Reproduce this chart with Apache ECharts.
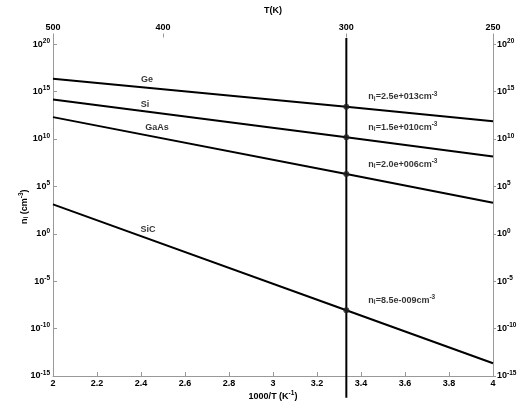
<!DOCTYPE html>
<html>
<head>
<meta charset="utf-8">
<script src="https://cdn.jsdelivr.net/npm/echarts@6/dist/echarts.min.js"></script>
<style>html,body{margin:0;padding:0;background:#fff;}#chart{width:519px;height:401px;}</style>
</head>
<body>
<div id="chart"></div>
<script>
// ---- data ----
const invT = [2, 3.3333, 4];                 // 1000/T (1/K)
const geValues   = [2.3e16, 2.5e13, 7.4e11];
const siValues   = [1.45e14, 1.5e10, 1.45e8];
const gaasValues = [2.0e12, 2.0e6, 1.9e3];
const sicValues  = [1.26e3, 8.5e-9, 2.2e-14];
const materials = ['Ge', 'Si', 'GaAs', 'SiC'];
const materialLabelX = [2.427, 2.418, 2.473, 2.432];
const materialLabelY = [1.8e16, 4.3e13, 1.6e11, 3.0e0];
const roomInvT = 1000 / 300;
const ni300 = [2.5e13, 1.5e10, 2.0e6, 8.5e-9];
const topTempTicks = [500, 400, 300, 250];   // T(K)
const refLineY = [Math.pow(10, 20.65), Math.pow(10, -17.3)];
const yMin = 1e-15, yMaxExp = 20.7;

function fmtNi(v) {
  const e = Math.floor(Math.log10(v) + 1e-9);
  const m = v / Math.pow(10, e);
  const sign = e < 0 ? '-' : '+';
  const ee = String(Math.abs(e)).padStart(3, '0');
  return '{b|n}{sub|i}{b|=' + m.toFixed(1) + 'e' + sign + ee + 'cm}{sup|-3}';
}
const FONT = 'Liberation Sans, Arial, sans-serif';
const richBase = {
  b: {fontSize: 9, fontWeight: 'bold', color: '#000', fontFamily: FONT},
  sup: {fontSize: 6.5, fontWeight: 'bold', color: '#000', fontFamily: FONT, verticalAlign: 'bottom', padding: [0, 0, 6, 0]},
  sub: {fontSize: 6.5, fontWeight: 'bold', color: '#000', fontFamily: FONT, verticalAlign: 'top', padding: [5, 0, 0, 0]}
};
function powLabel(v) {
  const e = Math.round(Math.log10(v));
  if (Math.abs(Math.log10(v) - e) > 1e-6) return '';
  return '{b|10}{sup|' + e + '}';
}
const lineStyle = {color: '#000', width: 2};
function lineSeries(name, vals) {
  return {type: 'line', name, data: invT.map((x, i) => [x, vals[i]]), symbol: 'none', lineStyle, xAxisIndex: 0, yAxisIndex: 0, z: 3};
}
const axisLineGray = {show: true, lineStyle: {color: '#999', width: 1}};

const chart = echarts.init(document.getElementById('chart'), null, {renderer: 'canvas'});
chart.setOption({
  animation: false,
  grid: {left: 53, right: 26, top: 37.5, bottom: 25, containLabel: false, outerBoundsMode: 'none'},
  xAxis: [{
    type: 'value', min: 2, max: 4, interval: 0.2, position: 'bottom',
    axisLine: axisLineGray, splitLine: {show: false},
    axisTick: {inside: true, length: 4, lineStyle: {color: '#999'}},
    axisLabel: {margin: 3, color: '#000', fontWeight: 'bold', fontSize: 9, fontFamily: FONT,
      formatter: v => String(Math.round(v * 10) / 10)},
    name: '{b|1000/T (K}{sup|-1}{b|)}', nameLocation: 'middle', nameGap: 14, nameMoveOverlap: false,
    nameTextStyle: {rich: richBase}
  }, {
    type: 'value', min: 2, max: 4, position: 'top',
    axisLine: {show: false}, splitLine: {show: false},
    axisTick: {show: true, inside: false, length: 4, lineStyle: {color: '#999'}, customValues: topTempTicks.map(t => 1000 / t)},
    axisLabel: {margin: 5, color: '#000', fontWeight: 'bold', fontSize: 9, fontFamily: FONT,
      customValues: topTempTicks.map(t => 1000 / t), formatter: v => String(Math.round(1000 / v))},
    name: 'T(K)', nameLocation: 'middle', nameGap: 22, nameMoveOverlap: false,
    nameTextStyle: {color: '#000', fontWeight: 'bold', fontSize: 9, fontFamily: FONT}
  }],
  yAxis: [{
    type: 'log', min: yMin, max: Math.pow(10, yMaxExp), interval: 5, position: 'left',
    axisLine: axisLineGray, splitLine: {show: false}, minorTick: {show: false},
    axisTick: {inside: true, length: 4, lineStyle: {color: '#999'}},
    axisLabel: {margin: 3, showMaxLabel: false, formatter: powLabel, rich: richBase},
    name: '{b|n}{sub|i}{b| (cm}{sup|-3}{b|)}', nameLocation: 'middle', nameGap: 22, nameRotate: 90, nameMoveOverlap: false,
    nameTextStyle: {rich: richBase}
  }, {
    type: 'log', min: yMin, max: Math.pow(10, yMaxExp), interval: 5, position: 'right',
    axisLine: axisLineGray, splitLine: {show: false},
    axisTick: {inside: false, length: 3, lineStyle: {color: '#999'}},
    axisLabel: {margin: 4, showMaxLabel: false, formatter: powLabel, rich: richBase}
  }],
  series: [
    lineSeries('Ge', geValues),
    lineSeries('Si', siValues),
    lineSeries('GaAs', gaasValues),
    lineSeries('SiC', sicValues),
    {
      type: 'line', name: '300K', data: refLineY.map(y => [roomInvT, y]), symbol: 'none',
      lineStyle, clip: false, z: 4
    },
    {
      type: 'scatter', name: 'ni300', data: ni300.map(v => [roomInvT, v]), symbolSize: 6,
      itemStyle: {color: '#222'}, z: 5,
      label: {show: true, position: 'right', distance: 19, offset: [0, -10],
        formatter: p => fmtNi(p.value[1]), rich: richBase}
    },
    {
      type: 'scatter', name: 'labels', symbolSize: 0, silent: true,
      data: materials.map((m, i) => ({name: m, value: [materialLabelX[i], materialLabelY[i]]})),
      label: {show: true, position: 'inside', formatter: p => p.name, color: '#000', fontWeight: 'bold', fontSize: 9, fontFamily: FONT}
    }
  ]
});
</script>
</body>
</html>
